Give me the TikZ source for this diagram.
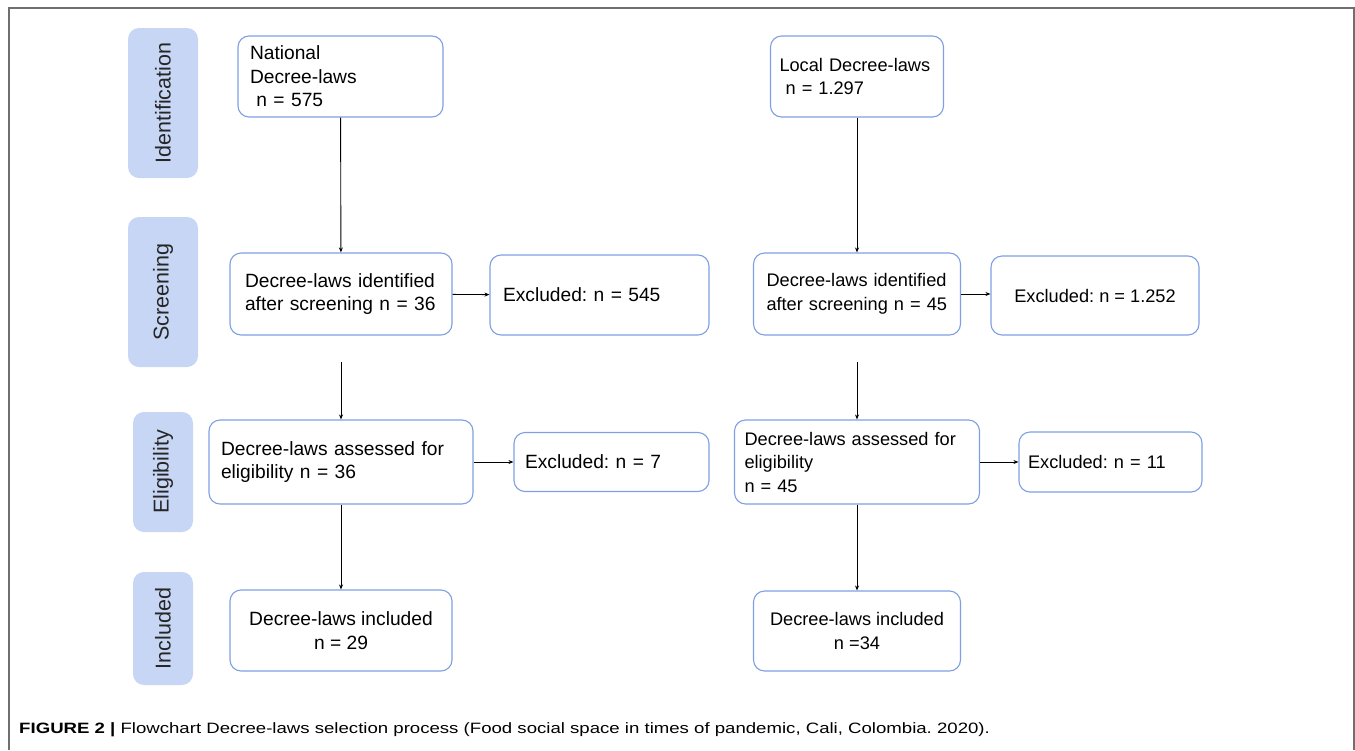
\documentclass[tikz,border=0pt]{standalone}
\usepackage{fontspec}
\setmainfont{Liberation Sans}
\usetikzlibrary{arrows.meta}
\definecolor{stageblue}{HTML}{C6D6F4}
\definecolor{boxblue}{HTML}{7F9FE3}
\definecolor{framegray}{HTML}{6F6F6F}

\begin{document}
\frenchspacing
\begin{tikzpicture}[x=1pt, y=-1pt,
  box/.style={draw=boxblue, line width=1.1pt, rounded corners=11pt, fill=white, inner sep=0pt, align=left},
  lcol/.style={box, font=\fontsize{19.2}{23.5}\selectfont},
  rcol/.style={box, font=\fontsize{18.2}{23.5}\selectfont},
  stage/.style={fill=stageblue, rounded corners=11pt, rotate=90, inner sep=0pt, text=black!85, font=\fontsize{21.5}{25}\selectfont},
  link/.style={-{Stealth[length=5pt, width=4pt]}, line width=0.9pt}]
  \useasboundingbox (0,0) rectangle (1355,750);
  \draw[framegray, line width=1.6pt] (9,750) |- (1354,8) -- (1354,750);

  % stages
  \node[stage, minimum width=150pt, minimum height=70pt] (ID) at (163,103) {Identification};
  \node[stage, minimum width=150pt, minimum height=70pt] (SC) at (163,292) {Screening};
  \node[stage, minimum width=120pt, minimum height=60pt] (EL) at (163,472) {Eligibility};
  \node[stage, minimum width=113pt, minimum height=60pt] (IN) at (163,628.5) {Included};

  % national
  \node[lcol, minimum width=205pt, minimum height=81pt, text width=181pt] (NAT) at (340.5,76.5) {National\\Decree-laws\\\ n = 575};
  \node[lcol, minimum width=222pt, minimum height=82pt, text width=192pt] (SCR1) at (341,294) {Decree-laws identified\\after screening n = 36};
  \node[lcol, minimum width=219pt, minimum height=80pt, text width=193pt] (EXC1) at (599.5,295) {Excluded: n = 545};
  \node[lcol, minimum width=264pt, minimum height=84pt, text width=240pt] (ELI1) at (341,462) {Decree-laws assessed for\\eligibility n = 36};
  \node[lcol, minimum width=195pt, minimum height=59pt, text width=173pt] (EXC2) at (611.5,462) {Excluded: n = 7};
  \node[lcol, minimum width=222pt, minimum height=81pt, align=center] (INC1) at (341,630.5) {Decree-laws included\\n = 29};

  % local
  \node[rcol, minimum width=173pt, minimum height=81pt, text width=155pt] (LOC) at (857,76.5) {Local Decree-laws\\\ n = 1.297};
  \node[rcol, minimum width=207pt, minimum height=82pt, text width=181pt] (SCR2) at (857,294) {Decree-laws identified\\after screening n = 45};
  \node[rcol, minimum width=208pt, minimum height=79pt, align=center] (EXC3) at (1095,295.5) {Excluded: n = 1.252};
  \node[rcol, minimum width=245pt, minimum height=84pt, text width=225pt] (ELI2) at (857,462) {Decree-laws assessed for\\eligibility\\n = 45};
  \node[rcol, minimum width=183pt, minimum height=60pt, text width=165pt] (EXC4) at (1110.5,462) {Excluded: n = 11};
  \node[rcol, minimum width=207pt, minimum height=80pt, align=center] (INC2) at (857,631) {Decree-laws included\\n =34};

  \coordinate (GAP1) at (341,362);
  \coordinate (GAP2) at (857,362);

  \draw[link] (NAT) -- (SCR1);
  \draw[link] (SCR1) -- (EXC1);
  \draw[link] (GAP1) -- (ELI1);
  \draw[link] (ELI1) -- (EXC2);
  \draw[link] (ELI1) -- (INC1);

  \draw[link] (LOC) -- (SCR2);
  \draw[link] (SCR2.east) -- (SCR2.east -| EXC3.west);
  \draw[link] (GAP2) -- (ELI2);
  \draw[link] (ELI2) -- (EXC4);
  \draw[link] (ELI2) -- (INC2);

  \node[anchor=west, inner sep=0pt, xscale=1.24, transform shape, font=\fontsize{15}{18}\selectfont] (CAP) at (19,730) {\textbf{FIGURE 2 |} Flowchart Decree-laws selection process (Food social space in times of pandemic, Cali, Colombia. 2020).};
\end{tikzpicture}
\end{document}
